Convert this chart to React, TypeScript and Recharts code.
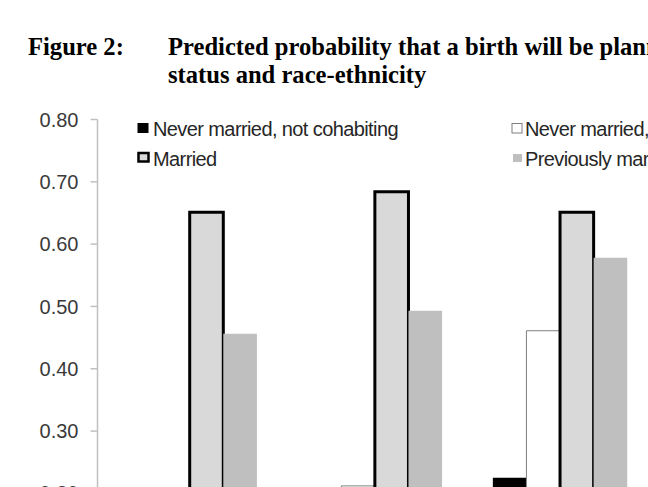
import { BarChart, Bar, XAxis, YAxis, Legend } from "recharts";

// race-ethnicity groups (x axis labels are cut off in the source picture)
const groups = ["White", "Black", "Hispanic"];

// predicted probability by union status; null = below the visible part of the chart
const neverNotCohabiting = [null, null, 0.225];
const neverCohabiting = [null, 0.212, 0.461];
const married = [0.651, 0.684, 0.651];
const previouslyMarried = [0.456, 0.493, 0.578];

const yTicks = [0, 0.1, 0.2, 0.3, 0.4, 0.5, 0.6, 0.7, 0.8];

const data = groups.map((g, i) => ({
  group: g,
  neverNot: neverNotCohabiting[i],
  neverCohab: neverCohabiting[i],
  married: married[i],
  prev: previouslyMarried[i],
}));

const sansFont = '"Liberation Sans", Arial, sans-serif';
const serifFont = '"Liberation Serif", "Times New Roman", serif';

const legendText = {
  fontFamily: sansFont,
  fontSize: 20,
  letterSpacing: -0.6,
  fill: "#262626",
};

const renderLegend = () => (
  <svg width={648} height={180} style={{ display: "block" }}>
    <rect x={137.5} y={123} width={11} height={10} fill="#000" />
    <text x={153} y={135.5} {...legendText}>
      Never married, not cohabiting
    </text>
    <rect x={512} y={123.5} width={10} height={9.5} fill="#fff" stroke="#7f7f7f" strokeWidth={1} />
    <text x={525} y={135.5} {...legendText}>
      Never married, cohabiting
    </text>
    <rect x={138.5} y={153} width={10} height={8.5} fill="#d9d9d9" stroke="#000" strokeWidth={2.5} />
    <text x={153} y={165.5} {...legendText}>
      Married
    </text>
    <rect x={513} y={154} width={9} height={8} fill="#bfbfbf" />
    <text x={525} y={165.5} {...legendText}>
      Previously married
    </text>
  </svg>
);

const App = () => {
  return (
    <div
      style={{
        position: "fixed",
        left: 0,
        top: 0,
        width: 648,
        height: 487,
        overflow: "hidden",
        background: "#fff",
      }}
    >
      <BarChart
        width={653}
        height={618}
        data={data}
        barGap={0}
        margin={{ top: 119.5, right: 0, left: 0, bottom: 0 }}
      >
        <XAxis dataKey="group" hide padding={{ left: 0, right: 0 }} />
        <YAxis
          width={97.5}
          domain={[0, 0.8]}
          ticks={yTicks}
          interval={0}
          tickFormatter={(v) => v.toFixed(2)}
          stroke="#c0c0c0"
          strokeWidth={1.5}
          tickSize={7}
          tickMargin={12}
          tick={{ fill: "#3a3a3a", fontSize: 20, fontFamily: sansFont }}
        />
        <Legend
          layout="horizontal"
          verticalAlign="middle"
          align="center"
          content={renderLegend}
          wrapperStyle={{ left: 0, top: 0, width: 648, height: 180 }}
        />
        <Bar dataKey="neverNot" name="Never married, not cohabiting" fill="#000" barSize={33.6} isAnimationActive={false} />
        <Bar
          dataKey="neverCohab"
          name="Never married, cohabiting"
          fill="#fff"
          stroke="#7f7f7f"
          strokeWidth={1}
          barSize={33.6}
          isAnimationActive={false}
        />
        <Bar
          dataKey="married"
          name="Married"
          fill="#d9d9d9"
          stroke="#000"
          strokeWidth={3}
          barSize={33.6}
          isAnimationActive={false}
        />
        <Bar dataKey="prev" name="Previously married" fill="#bfbfbf" barSize={33.6} isAnimationActive={false} />
      </BarChart>
      <svg
        width={648}
        height={100}
        style={{ position: "absolute", left: 0, top: 0, pointerEvents: "none" }}
      >
        <g fontFamily={serifFont} fontWeight="bold" fontSize={24.6} fill="#000">
          <text x={28} y={55}>
            Figure 2:
          </text>
          <text x={168} y={55}>
            Predicted probability that a birth will be planned, by union
          </text>
          <text x={168} y={83}>
            status and race-ethnicity
          </text>
        </g>
      </svg>
    </div>
  );
};

export default App;
